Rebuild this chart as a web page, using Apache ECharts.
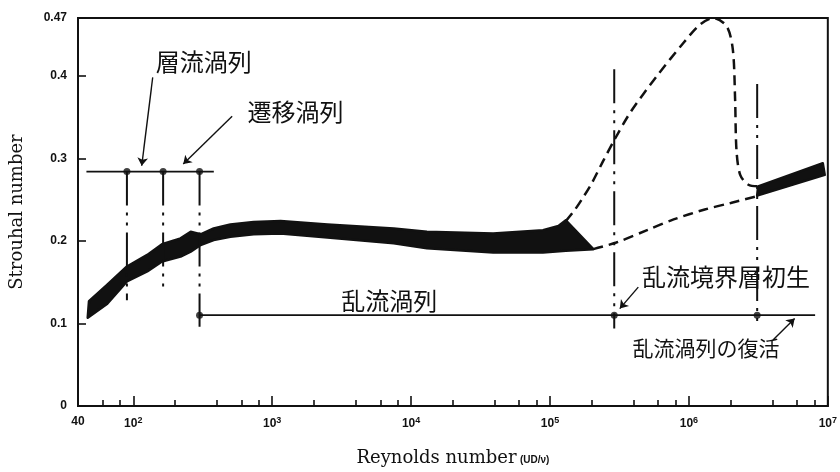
<!DOCTYPE html>
<html><head><meta charset="utf-8">
<script src="https://cdn.jsdelivr.net/npm/echarts@6/dist/echarts.min.js"></script>
<style>html,body{margin:0;padding:0;background:#fff}#c{width:840px;height:472px}</style>
</head><body><div id="c"></div>
<script>
// ---- axis ticks ----
const xLabelValues = [40, 100, 1000, 1e4, 1e5, 1e6, 1e7];
const xMajorTicks = [100, 1000, 1e4, 1e5, 1e6, 1e7];
const xMinorTicks = [60, 80, 200, 400, 600, 800, 2000, 4000, 6000, 8000, 2e4, 4e4, 6e4, 8e4,
  2e5, 4e5, 6e5, 8e5, 2e6, 4e6, 6e6, 8e6];
const yTicks = [0, 0.1, 0.2, 0.3, 0.4, 0.47];

// ---- thick data band (low Re to ~2e5) ----
const bandUpperRe = [48, 65, 90, 126, 161, 219, 259, 305, 379, 500, 735, 1150, 2500, 7500, 13000, 39000, 89000, 115000, 130000];
const bandUpperSt = [0.127, 0.147, 0.169, 0.183, 0.196, 0.203, 0.211, 0.208, 0.215, 0.22, 0.223, 0.224, 0.22, 0.215, 0.211, 0.209, 0.213, 0.218, 0.225];
const bandLowerRe = [47, 65, 90, 126, 161, 219, 259, 305, 379, 500, 735, 1150, 2500, 7500, 13000, 39000, 89000, 130000, 205000];
const bandLowerSt = [0.107, 0.124, 0.151, 0.163, 0.175, 0.181, 0.187, 0.195, 0.201, 0.205, 0.208, 0.209, 0.204, 0.197, 0.191, 0.186, 0.186, 0.188, 0.19];

// ---- thick band at high Re ----
const band2UpperRe = [3.15e6, 9.2e6];
const band2UpperSt = [0.266, 0.294];
const band2LowerRe = [3.1e6, 9.5e6];
const band2LowerSt = [0.255, 0.28];

// ---- dashed branches ----
const upperDashRe = [130000, 150000, 175000, 200000, 240000, 290000, 380000, 590000, 915000, 1200000, 1500000, 1870000, 2070000, 2150000, 2200000, 2340000, 2680000, 3260000];
const upperDashSt = [0.224, 0.237, 0.254, 0.27, 0.296, 0.322, 0.356, 0.40, 0.44, 0.462, 0.47, 0.46, 0.432, 0.372, 0.31, 0.28, 0.268, 0.266];
const lowerDashRe = [205000, 300000, 500000, 776000, 1300000, 2000000, 3060000];
const lowerDashSt = [0.19, 0.198, 0.213, 0.226, 0.238, 0.246, 0.254];

// ---- reference lines ----
const vertRe = [90, 164, 300, 2.9e5, 3.1e6];
const vertTopSt = [0.284, 0.284, 0.284, 0.408, 0.39];
const vertBottomSt = [0.128, 0.144, 0.096, 0.094, 0.098];
const hLineSt = [0.284, 0.11];
const hLineFromRe = [46, 300];
const hLineToRe = [380, 8.1e6];
const dotRe = [90, 164, 300, 300, 2.9e5, 3.1e6];
const dotSt = [0.284, 0.284, 0.284, 0.11, 0.11, 0.11];

// ---- annotations ----
const noteText = ['層流渦列', '遷移渦列', '乱流渦列', '乱流境界層初生', '乱流渦列の復活'];
const noteRe = [321, 1469, 6970, 1.85e6, 1.325e6];
const noteSt = [0.417, 0.356, 0.127, 0.156, 0.0707];
const noteSize = [24, 24, 24, 24, 21];
const arrowFromRe = [138, 515, 432000, 4.03e6];
const arrowFromSt = [0.398, 0.351, 0.144, 0.080];
const arrowToRe = [115, 229, 318000, 5.77e6];
const arrowToSt = [0.291, 0.293, 0.118, 0.106];

const INK = '#111';
const supDigits = {2:'2',3:'3',4:'4',5:'5',6:'6',7:'7'};

function polySeries(upRe, upSt, loRe, loSt) {
  return {
    type: 'custom', silent: true, z: 3,
    data: [[upRe[0], upSt[0]]],
    renderItem: function (params, api) {
      const pts = [];
      for (let i = 0; i < upRe.length; i++) pts.push(api.coord([upRe[i], upSt[i]]));
      for (let i = loRe.length - 1; i >= 0; i--) pts.push(api.coord([loRe[i], loSt[i]]));
      return { type: 'polygon', shape: { points: pts },
        style: { fill: INK, stroke: INK, lineWidth: 2.5, lineJoin: 'round' } };
    }
  };
}

const series = [];
series.push(polySeries(bandUpperRe, bandUpperSt, bandLowerRe, bandLowerSt));
series.push(polySeries(band2UpperRe, band2UpperSt, band2LowerRe, band2LowerSt));
series.push({
  type: 'line', silent: true, showSymbol: false, smooth: 0.3, z: 3,
  data: upperDashRe.map((r, i) => [r, upperDashSt[i]]),
  lineStyle: { color: INK, width: 2.5, type: [10, 6] }
});
series.push({
  type: 'line', silent: true, showSymbol: false, smooth: 0.3, z: 3,
  data: lowerDashRe.map((r, i) => [r, lowerDashSt[i]]),
  lineStyle: { color: INK, width: 2.5, type: [10, 6] }
});
vertRe.forEach((r, i) => {
  series.push({
    type: 'line', silent: true, showSymbol: false, z: 4,
    data: [[r, vertTopSt[i]], [r, vertBottomSt[i]]],
    lineStyle: { color: INK, width: 2, type: [34, 7, 3, 7, 3, 7] }
  });
});
hLineSt.forEach((s, i) => {
  series.push({
    type: 'line', silent: true, showSymbol: false, z: 4,
    data: [[hLineFromRe[i], s], [hLineToRe[i], s]],
    lineStyle: { color: INK, width: 1.8 }
  });
});
series.push({
  type: 'scatter', silent: true, symbolSize: 7, z: 5,
  itemStyle: { color: INK },
  data: dotRe.map((r, i) => [r, dotSt[i]])
});
series.push({
  type: 'lines', coordinateSystem: 'cartesian2d', silent: true, z: 5,
  symbol: ['none', 'arrow'], symbolSize: 8,
  lineStyle: { color: INK, width: 1.4, opacity: 1, curveness: 0 },
  data: arrowFromRe.map((r, i) => ({ coords: [[r, arrowFromSt[i]], [arrowToRe[i], arrowToSt[i]]] }))
});
series.push({
  type: 'custom', silent: true, z: 6,
  data: noteRe.map((r, i) => [r, noteSt[i]]),
  renderItem: function (params, api) {
    const p = api.coord([api.value(0), api.value(1)]);
    return { type: 'text', x: p[0], y: p[1],
      style: { text: noteText[params.dataIndex], fill: INK, fontSize: noteSize[params.dataIndex],
        fontFamily: '"Noto Sans CJK JP"', align: 'center', verticalAlign: 'middle' } };
  }
});

const chart = echarts.init(document.getElementById('c'), null, { renderer: 'canvas' });
chart.setOption({
  animation: false,
  backgroundColor: '#fff',
  grid: { left: 76, right: 12, top: 18, bottom: 62, show: true, borderColor: INK, borderWidth: 2, backgroundColor: 'transparent' },
  xAxis: [{
    type: 'log', min: 40, max: 1e7, logBase: 10,
    name: '{a|Reynolds number} {b|(UD/ν)}', nameLocation: 'middle', nameGap: 43,
    nameTextStyle: { rich: {
      a: { fontFamily: '"DejaVu Serif"', fontSize: 18, color: INK },
      b: { fontFamily: '"Liberation Sans"', fontSize: 10, fontWeight: 'bold', color: INK, padding: [5, 0, 0, 0] } } },
    axisLine: { show: true, lineStyle: { color: INK, width: 2 } },
    splitLine: { show: false }, minorTick: { show: false },
    axisTick: { show: true, inside: true, length: 10, customValues: xMajorTicks, lineStyle: { color: INK, width: 1.6 } },
    axisLabel: { customValues: xLabelValues, margin: 10, color: INK,
      formatter: function (v) {
        if (v === 40) return '{n|40}';
        const e = Math.round(Math.log10(v));
        return '{n|10}{s|' + supDigits[e] + '}';
      },
      rich: {
        n: { fontFamily: '"Liberation Sans"', fontWeight: 'bold', fontSize: 12, color: INK },
        s: { fontFamily: '"Liberation Sans"', fontWeight: 'bold', fontSize: 9, color: INK, padding: [0, 0, 7, 0] }
      }
    }
  }, {
    type: 'log', min: 40, max: 1e7, logBase: 10, position: 'bottom',
    axisLine: { show: false }, splitLine: { show: false }, axisLabel: { show: false },
    axisTick: { show: true, inside: true, length: 6, customValues: xMinorTicks, lineStyle: { color: INK, width: 1.6 } }
  }],
  yAxis: {
    type: 'value', min: 0, max: 0.47,
    name: 'Strouhal number', nameLocation: 'middle', nameGap: 52, nameRotate: 90,
    nameTextStyle: { fontFamily: '"DejaVu Serif"', fontSize: 18, color: INK },
    axisLine: { show: true, lineStyle: { color: INK, width: 2 } },
    splitLine: { show: false },
    axisTick: { show: true, inside: true, length: 8, customValues: yTicks, lineStyle: { color: INK, width: 1.6 } },
    axisLabel: { customValues: yTicks, margin: 11, color: INK, fontFamily: '"Liberation Sans"', fontWeight: 'bold', fontSize: 12,
      formatter: function (v) { return v === 0 ? '0' : String(v); } }
  },
  series: series
});
</script>
</body></html>
